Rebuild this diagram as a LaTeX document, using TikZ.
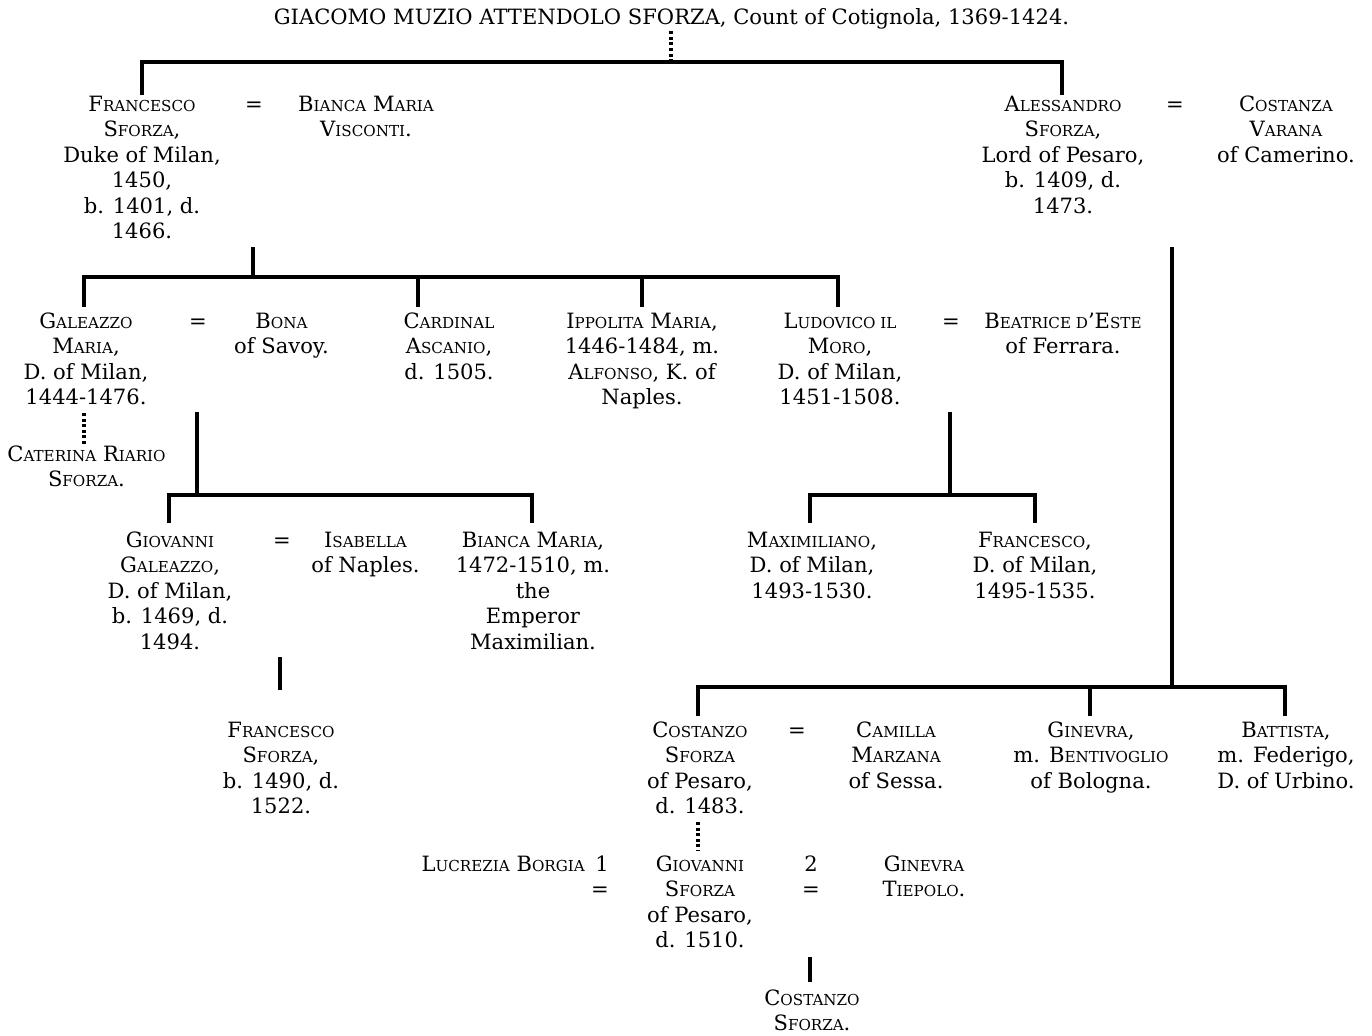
\documentclass[tikz,border=0pt]{standalone}
\usepackage{fontspec}
\setmainfont{DejaVu Serif}
% small capitals built from scaled-down capitals
\newcommand\SC[1]{{\fontsize{11.35pt}{19.1pt}\selectfont #1}}
% fixed first-line height so every entry hangs from the same top edge
\newcommand\fl{\rule{0pt}{14pt}}
\begin{document}
\begin{tikzpicture}[x=0.75pt,y=-0.75pt,
  person/.style={anchor=north,inner sep=0pt,align=center,
    font=\fontsize{15.8pt}{19.1pt}\selectfont},
  tree/.style={line width=3pt,line join=miter},
  descent/.style={line width=2.8pt,dash pattern=on 2.3pt off 1.9pt}]
\useasboundingbox (0,0) rectangle (1372,1036);

% ---------- generation I ----------
\node[person] (giacomo) at (671.5,5.3) {\fl GIACOMO MUZIO ATTENDOLO SFORZA, Count of Cotignola, 1369-1424.};

% ---------- generation II ----------
\node[person] (fsf) at (142,92.3) {\fl F\SC{RANCESCO}\\S\SC{FORZA},\\Duke of Milan,\\1450,\\b. 1401, d.\\1466.};
\node[person] (eqA) at (254,92.3) {\fl =};
\node[person] (bmv) at (366,92.3) {\fl B\SC{IANCA} M\SC{ARIA}\\V\SC{ISCONTI}.};
\node[person] (asf) at (1063,92.3) {\fl A\SC{LESSANDRO}\\S\SC{FORZA},\\Lord of Pesaro,\\b. 1409, d.\\1473.};
\node[person] (eqB) at (1175,92.3) {\fl =};
\node[person] (cva) at (1286,92.3) {\fl C\SC{OSTANZA}\\V\SC{ARANA}\\of Camerino.};

% ---------- generation III ----------
\node[person] (gms) at (86,309.3) {\fl G\SC{ALEAZZO}\\M\SC{ARIA},\\D. of Milan,\\1444-1476.};
\node[person] (eqC) at (198,309.3) {\fl =};
\node[person] (bona) at (281.5,309.3) {\fl B\SC{ONA}\\of Savoy.};
\node[person] (asc) at (449,309.3) {\fl C\SC{ARDINAL}\\A\SC{SCANIO},\\d. 1505.};
\node[person] (ipp) at (642,309.3) {\fl I\SC{PPOLITA} M\SC{ARIA},\\1446-1484, m.\\A\SC{LFONSO}, K. of\\Naples.};
\node[person] (lud) at (840,309.3) {\fl L\SC{UDOVICO IL}\\M\SC{ORO},\\D. of Milan,\\1451-1508.};
\node[person] (eqD) at (951,309.3) {\fl =};
\node[person] (bea) at (1063,309.3) {\fl B\SC{EATRICE D}'E\SC{STE}\\of Ferrara.};
\node[person] (cat) at (86.5,442.3) {\fl C\SC{ATERINA} R\SC{IARIO}\\S\SC{FORZA}.};

% ---------- generation IV ----------
\node[person] (ggs) at (170,528.3) {\fl G\SC{IOVANNI}\\G\SC{ALEAZZO},\\D. of Milan,\\b. 1469, d.\\1494.};
\node[person] (eqE) at (282,528.3) {\fl =};
\node[person] (isa) at (365.5,528.3) {\fl I\SC{SABELLA}\\of Naples.};
\node[person] (bmm) at (533,528.3) {\fl B\SC{IANCA} M\SC{ARIA},\\1472-1510, m.\\the\\Emperor\\Maximilian.};
\node[person] (max) at (812,528.3) {\fl M\SC{AXIMILIANO},\\D. of Milan,\\1493-1530.};
\node[person] (frm) at (1035,528.3) {\fl F\SC{RANCESCO},\\D. of Milan,\\1495-1535.};

\node[person] (fsg) at (281,718.3) {\fl F\SC{RANCESCO}\\S\SC{FORZA},\\b. 1490, d.\\1522.};
\node[person] (csp) at (700,718.3) {\fl C\SC{OSTANZO}\\S\SC{FORZA}\\of Pesaro,\\d. 1483.};
\node[person] (eqF) at (797,718.3) {\fl =};
\node[person] (cam) at (896,718.3) {\fl C\SC{AMILLA}\\M\SC{ARZANA}\\of Sessa.};
\node[person] (gin) at (1091,718.3) {\fl G\SC{INEVRA},\\m. B\SC{ENTIVOGLIO}\\of Bologna.};
\node[person] (bat) at (1286,718.3) {\fl B\SC{ATTISTA},\\m. Federigo,\\D. of Urbino.};

% ---------- generation V ----------
\node[person,anchor=north east,align=right] (luc) at (609,852.3) {\fl L\SC{UCREZIA} B\SC{ORGIA}\enspace1\\=};
\node[person] (gsp) at (700,852.3) {\fl G\SC{IOVANNI}\\S\SC{FORZA}\\of Pesaro,\\d. 1510.};
\node[person] (two) at (811,852.3) {\fl 2\\=};
\node[person] (gti) at (924,852.3) {\fl G\SC{INEVRA}\\T\SC{IEPOLO}.};
\node[person] (csz) at (812,986.3) {\fl C\SC{OSTANZO}\\S\SC{FORZA}.};

% ---------- lines of descent ----------
% Giacomo's sons
\coordinate (barI) at (671,62);
\draw[descent] (giacomo.south -| barI) ++(0,2) -- (barI);
\draw[tree] ([yshift=-2.3]fsf.north) -- (fsf.north |- barI) -- ([xshift=-1]asf.north |- barI) -- ([xshift=-1,yshift=-2.3]asf.north);

% children of Francesco and Bianca Maria
\coordinate (mFB) at (253,247);
\coordinate (barII) at (253,277);
\draw[tree] (mFB) -- (barII);
\draw[tree] (84,307) -- (84,277) -- (838,277) -- (838,307);
\draw[tree] (418,277) -- (418,307);
\draw[tree] (642,277) -- (642,307);

% Caterina
\draw[descent] (84,413) -- ([yshift=-1.5]cat.north -| 84,0);

% children of Galeazzo Maria and Bona
\coordinate (mGB) at (197,412);
\draw[tree] (mGB) -- (197,495);
\draw[tree] (169,523) -- (169,495) -- (532,495) -- (532,523);

% son of Giovanni Galeazzo and Isabella
\coordinate (mGI) at (280,657);
\draw[tree] (mGI) -- (280,690);

% children of Ludovico and Beatrice
\coordinate (mLB) at (950,412);
\draw[tree] (mLB) -- (950,495);
\draw[tree] (810,523) -- (810,495) -- (1035,495) -- (1035,523);

% children of Alessandro and Costanza
\coordinate (mAC) at (1172,247);
\draw[tree] (mAC) -- (1172,687);
\draw[tree] (698,716) -- (698,687) -- (1285,687) -- (1285,716);
\draw[tree] (1090,687) -- (1090,716);

% Giovanni, son of Costanzo
\draw[descent] (698,822) -- (698,851);

% son of Giovanni and Ginevra
\coordinate (mGG) at (810,957);
\draw[tree] (mGG) -- (810,982);
\end{tikzpicture}
\end{document}
